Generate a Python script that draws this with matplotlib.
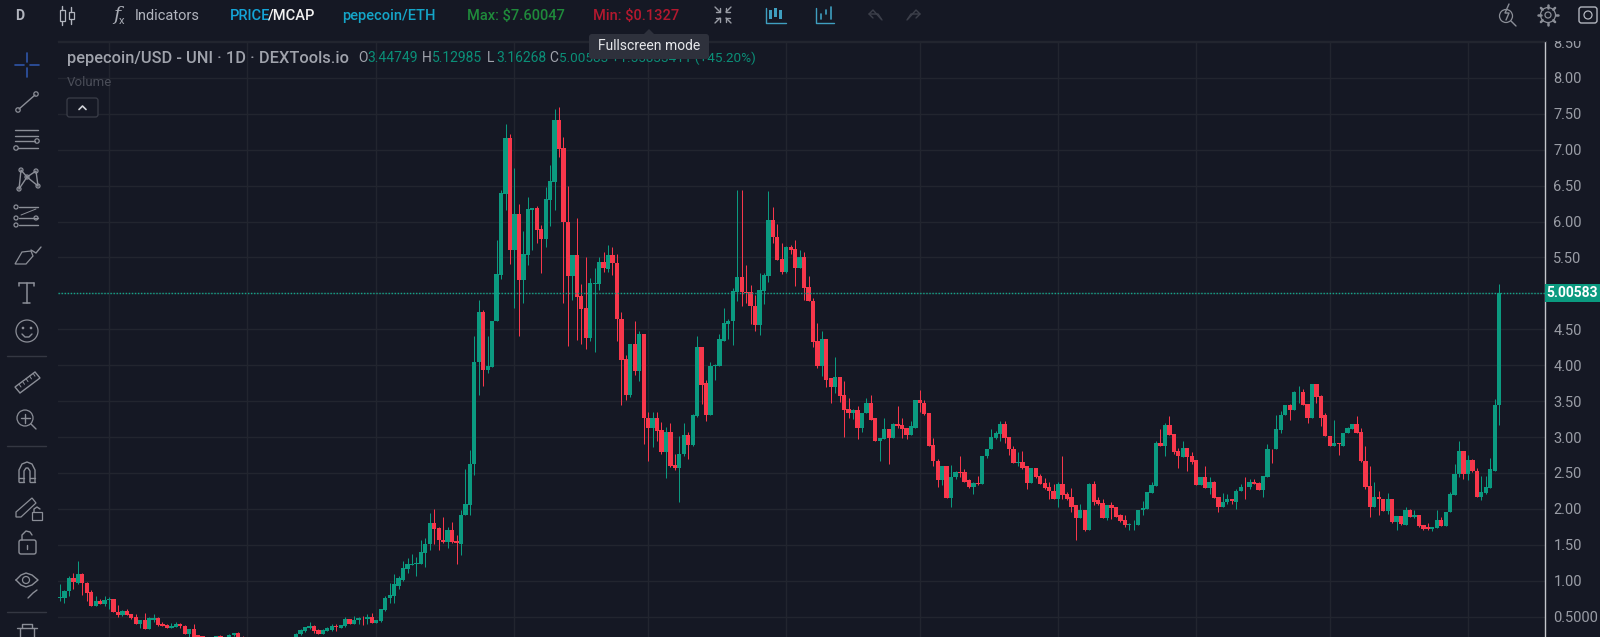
import math
import matplotlib
matplotlib.use('Agg')
import matplotlib.pyplot as plt
from matplotlib.patches import Circle, FancyBboxPatch, Polygon, Rectangle

# daily candles. the ones from 42 to 52 sit under the bottom edge
opens = [
    .76, .76, .85, 1.03, .97, 1.09, .97, .84, .65, .72,
    .67, .73, .74, .57, .52, .58, .54, .49, .40, .457,
    .327, .45, .485, .39, .387, .345, .355, .39, .373, .257,
    .33, .24, .23, .18, .16, .19, .225, .22, .2, .24,
    .27, .22, .19, .16, .14, .15, .14, .16, .15, .17,
    .16, .18, .17, .20, .25, .295, .345, .37, .318, .257,
    .30, .318, .365, .336, .364, .47, .396, .447, .485, .46,
    .494, .41, .434, .595, .755, .78, .93, 1.005, 1.16, 1.22,
    1.23, 1.237, 1.385, 1.506, 1.80, 1.73, 1.57, 1.54, 1.71, 1.55,
    1.515, 1.91, 2.06, 2.63, 4.04, 4.74, 3.94, 3.98, 4.61, 5.25,
    6.39, 7.16, 5.60, 6.11, 5.19, 5.54, 6.16, 6.19, 5.90, 5.76,
    6.30, 6.55, 7.42, 7.02, 6.00, 5.24, 5.54, 4.97, 4.79, 4.38,
    5.13, 5.13, 5.44, 5.34, 5.54, 5.43, 4.65, 4.08, 3.58, 4.29,
    3.92, 4.44, 3.27, 3.13, 3.26, 3.10, 2.79, 3.07, 2.61, 2.57,
    2.77, 3.03, 2.89, 3.29, 4.25, 3.75, 3.30, 3.99, 3.99, 4.34,
    4.58, 4.61, 5.02, 5.23, 5.02, 5.02, 4.83, 4.56, 5.04, 5.24,
    6.02, 5.79, 5.48, 5.30, 5.64, 5.62, 5.35, 5.50, 5.09, 4.90,
    4.34, 3.99, 4.37, 3.82, 3.70, 3.83, 3.58, 3.39, 3.34, 3.37,
    3.12, 3.34, 3.48, 3.26, 2.95, 2.97, 3.11, 2.98, 3.18, 3.17,
    3.12, 3.03, 3.13, 3.52, 3.48, 3.34, 2.89, 2.67, 2.40, 2.59,
    2.15, 2.44, 2.51, 2.51, 2.40, 2.30, 2.36, 2.35, 2.73, 2.83,
    2.98, 3.04, 3.18, 3.00, 2.84, 2.64, 2.65, 2.60, 2.36, 2.57,
    2.46, 2.36, 2.30, 2.25, 2.14, 2.35, 2.21, 2.16, 2.05, 1.87,
    1.99, 1.71, 2.35, 2.12, 2.08, 1.87, 2.06, 2.02, 1.91, 1.85,
    1.78, 1.79, 1.78, 1.98, 2.00, 2.22, 2.32, 2.92, 2.87, 3.17,
    3.04, 2.81, 2.72, 2.85, 2.73, 2.68, 2.33, 2.44, 2.29, 2.37,
    2.16, 2.02, 2.10, 2.13, 2.10, 2.25, 2.31, 2.30, 2.38, 2.36,
    2.26, 2.45, 2.84, 2.83, 3.10, 3.30, 3.44, 3.37, 3.62, 3.63,
    3.46, 3.26, 3.745, 3.57, 3.30, 3.02, 2.88, 2.92, 2.88, 3.05,
    3.11, 3.18, 3.07, 2.67, 2.32, 2.02, 2.16, 2.14, 1.97, 2.14,
    1.81, 1.90, 1.78, 1.98, 1.89, 1.92, 1.78, 1.745, 1.72, 1.73,
    1.85, 1.76, 1.95, 2.19, 2.48, 2.81, 2.48, 2.68, 2.53, 2.17,
    2.22, 2.29, 2.53, 3.44749,
]
closes = [
    .77, .86, 1.03, .98, 1.09, .97, .83, .65, .72, .67,
    .73, .74, .56, .52, .58, .52, .475, .40, .457, .327,
    .485, .485, .378, .373, .34, .37, .39, .37, .257, .33,
    .18, .20, .19, .16, .20, .225, .21, .20, .245, .27,
    .21, .19, .16, .14, .15, .14, .16, .15, .17, .16,
    .18, .17, .19, .262, .318, .355, .37, .30, .257, .318,
    .345, .364, .355, .378, .47, .396, .457, .485, .475, .494,
    .41, .447, .61, .763, .805, .95, 1.03, 1.176, 1.23, 1.237,
    1.25, 1.40, 1.515, 1.80, 1.72, 1.56, 1.54, 1.71, 1.54, 1.52,
    1.92, 2.07, 2.63, 4.05, 4.74, 3.94, 3.99, 4.62, 5.27, 6.40,
    7.16, 5.60, 6.11, 5.19, 5.55, 6.17, 6.19, 5.88, 5.76, 6.31,
    6.57, 7.42, 7.01, 5.99, 5.24, 5.54, 4.95, 4.78, 4.38, 5.14,
    5.15, 5.44, 5.35, 5.54, 5.42, 4.64, 4.07, 3.58, 4.29, 3.92,
    4.44, 3.26, 3.13, 3.26, 3.09, 2.79, 3.07, 2.60, 2.57, 2.77,
    3.03, 2.89, 3.30, 4.25, 3.73, 3.30, 3.99, 4.00, 4.36, 4.59,
    4.62, 5.03, 5.23, 5.02, 5.01, 4.82, 4.56, 5.05, 5.25, 6.02,
    5.78, 5.47, 5.30, 5.64, 5.61, 5.35, 5.50, 5.08, 4.89, 4.33,
    3.99, 4.37, 3.80, 3.70, 3.83, 3.57, 3.37, 3.34, 3.37, 3.12,
    3.34, 3.48, 3.24, 2.95, 2.98, 3.11, 2.98, 3.18, 3.16, 3.11,
    3.03, 3.15, 3.52, 3.47, 3.32, 2.88, 2.66, 2.40, 2.59, 2.15,
    2.45, 2.51, 2.50, 2.38, 2.30, 2.36, 2.34, 2.74, 2.84, 3.00,
    3.06, 3.18, 2.98, 2.83, 2.64, 2.65, 2.57, 2.36, 2.57, 2.45,
    2.35, 2.29, 2.25, 2.14, 2.35, 2.19, 2.14, 2.03, 1.87, 1.99,
    1.71, 2.35, 2.10, 2.07, 1.87, 2.06, 2.01, 1.89, 1.83, 1.78,
    1.79, 1.795, 1.99, 2.01, 2.23, 2.33, 2.92, 2.87, 3.17, 3.03,
    2.79, 2.73, 2.85, 2.72, 2.65, 2.33, 2.44, 2.29, 2.37, 2.15,
    2.02, 2.10, 2.13, 2.11, 2.25, 2.31, 2.30, 2.38, 2.35, 2.26,
    2.46, 2.84, 2.83, 3.11, 3.31, 3.44, 3.38, 3.62, 3.625, 3.44,
    3.26, 3.745, 3.56, 3.27, 3.01, 2.88, 2.91, 2.90, 3.06, 3.12,
    3.18, 3.05, 2.66, 2.31, 2.02, 2.16, 2.13, 1.97, 2.14, 1.81,
    1.90, 1.79, 1.98, 1.89, 1.92, 1.755, 1.72, 1.72, 1.745, 1.85,
    1.76, 1.96, 2.20, 2.49, 2.81, 2.48, 2.68, 2.52, 2.17, 2.23,
    2.31, 2.55, 3.45, 5.00583,
]
highs = [
    .95, .865, 1.07, 1.11, 1.27, 1.11, .98, .87, .78, .74,
    .78, .77, .74, .66, .59, .61, .54, .54, .457, .554,
    .49, .54, .49, .42, .39, .41, .43, .41, .38, .33,
    .40, .24, .23, .19, .20, .23, .24, .22, .25, .275,
    .29, .23, .20, .17, .16, .16, .165, .165, .175, .175,
    .185, .185, .195, .27, .32, .36, .43, .378, .32, .32,
    .35, .39, .39, .38, .494, .47, .503, .494, .51, .53,
    .554, .447, .61, .78, .97, 1.09, 1.06, 1.27, 1.31, 1.37,
    1.33, 1.56, 1.60, 1.94, 2.0, 1.75, 1.88, 1.75, 1.81, 1.63,
    1.98, 2.55, 2.82, 4.40, 4.91, 4.77, 4.40, 4.62, 5.74, 6.44,
    7.36, 7.22, 6.74, 6.25, 5.87, 6.34, 6.19, 6.22, 5.95, 6.48,
    6.79, 7.57, 7.60047, 7.18, 6.50, 5.54, 6.05, 5.13, 5.50, 5.22,
    5.36, 5.51, 5.58, 5.67, 5.65, 5.55, 4.74, 4.14, 4.29, 4.61,
    4.47, 4.44, 3.35, 3.35, 3.35, 3.21, 3.14, 3.19, 2.77, 3.01,
    3.19, 3.07, 3.32, 4.40, 4.25, 3.79, 4.05, 4.02, 4.44, 4.79,
    4.65, 5.08, 6.44, 6.44, 5.39, 5.12, 4.98, 5.28, 5.28, 6.42,
    6.20, 5.96, 5.70, 5.66, 5.67, 5.74, 5.60, 5.57, 5.24, 4.93,
    4.59, 4.48, 4.37, 3.82, 4.11, 3.84, 3.78, 3.55, 3.39, 3.43,
    3.34, 3.54, 3.59, 3.26, 2.98, 3.27, 3.11, 3.20, 3.43, 3.27,
    3.12, 3.23, 3.52, 3.65, 3.51, 3.34, 2.98, 2.69, 2.59, 2.59,
    2.61, 2.53, 2.73, 2.56, 2.41, 2.38, 2.46, 2.74, 2.84, 3.11,
    3.08, 3.22, 3.23, 3.0, 2.88, 2.79, 2.81, 2.60, 2.57, 2.57,
    2.48, 2.43, 2.37, 2.35, 2.37, 2.73, 2.23, 2.29, 2.05, 2.07,
    1.99, 2.36, 2.39, 2.17, 2.14, 2.06, 2.09, 2.03, 1.93, 1.92,
    1.80, 1.85, 1.99, 2.11, 2.23, 2.38, 2.95, 3.11, 3.20, 3.29,
    3.04, 2.85, 2.94, 2.85, 2.79, 2.68, 2.44, 2.60, 2.45, 2.39,
    2.16, 2.22, 2.21, 2.14, 2.28, 2.34, 2.45, 2.41, 2.42, 2.38,
    2.46, 2.90, 2.84, 3.31, 3.36, 3.44, 3.46, 3.64, 3.71, 3.67,
    3.46, 3.745, 3.745, 3.59, 3.33, 3.02, 3.24, 2.92, 3.06, 3.14,
    3.18, 3.29, 3.13, 2.88, 2.59, 2.38, 2.25, 2.14, 2.22, 2.14,
    1.90, 1.90, 2.02, 2.0, 1.99, 1.92, 1.78, 1.80, 1.745, 1.99,
    1.88, 1.96, 2.23, 2.63, 2.95, 2.81, 2.75, 2.69, 2.57, 2.46,
    2.46, 2.71, 3.53, 5.12985,
]
lows = [
    .71, .69, .79, .88, .96, .80, .72, .65, .65, .67,
    .65, .60, .56, .50, .51, .52, .47, .40, .345, .32,
    .325, .43, .375, .37, .34, .335, .355, .345, .25, .21,
    .15, .19, .18, .15, .155, .18, .19, .19, .19, .23,
    .20, .18, .15, .135, .1327, .135, .135, .14, .14, .15,
    .15, .16, .165, .19, .24, .29, .33, .266, .25, .25,
    .30, .30, .295, .335, .355, .396, .39, .39, .38, .40,
    .41, .41, .43, .572, .69, .69, .89, 1.00, 1.10, 1.22,
    1.06, 1.237, 1.19, 1.43, 1.506, 1.43, 1.525, 1.46, 1.525, 1.23,
    1.35, 1.91, 1.91, 2.47, 3.58, 3.71, 3.89, 3.98, 4.61, 5.20,
    6.16, 5.41, 4.80, 4.40, 4.86, 5.39, 5.61, 5.70, 5.29, 5.65,
    5.94, 6.16, 6.90, 4.87, 4.27, 4.91, 4.35, 4.29, 4.23, 4.34,
    4.18, 5.05, 5.30, 5.30, 5.26, 4.34, 3.45, 3.51, 3.56, 3.86,
    3.78, 2.90, 2.66, 2.86, 2.95, 2.77, 2.43, 2.58, 2.54, 2.10,
    2.73, 2.70, 2.88, 3.28, 3.46, 3.23, 3.30, 3.79, 3.99, 4.34,
    4.36, 4.28, 4.89, 4.83, 4.86, 4.57, 4.47, 4.42, 4.85, 5.16,
    5.70, 5.47, 5.27, 5.28, 5.55, 5.10, 5.35, 4.91, 4.89, 4.25,
    3.96, 3.85, 3.69, 3.48, 3.61, 3.49, 3.0, 3.27, 3.25, 2.97,
    3.07, 3.33, 3.24, 2.94, 2.67, 2.97, 2.62, 2.98, 3.12, 2.99,
    2.97, 3.03, 3.13, 3.35, 3.31, 2.88, 2.60, 2.30, 2.33, 2.15,
    2.02, 2.42, 2.45, 2.38, 2.29, 2.21, 2.33, 2.34, 2.71, 2.83,
    2.97, 2.95, 2.91, 2.75, 2.64, 2.59, 2.55, 2.27, 2.36, 2.43,
    2.34, 2.28, 2.14, 2.14, 2.02, 2.14, 2.12, 1.95, 1.56, 1.87,
    1.69, 1.71, 2.05, 2.06, 1.87, 1.84, 1.86, 1.88, 1.82, 1.75,
    1.70, 1.71, 1.78, 1.91, 2.0, 2.22, 2.32, 2.87, 2.74, 3.03,
    2.76, 2.57, 2.72, 2.52, 2.63, 2.33, 2.33, 2.29, 2.20, 2.15,
    1.95, 2.02, 2.07, 2.07, 2.0, 2.25, 2.14, 2.28, 2.34, 2.26,
    2.17, 2.45, 2.64, 2.83, 3.06, 3.30, 3.24, 3.37, 3.48, 3.44,
    3.19, 3.26, 3.48, 3.16, 3.01, 2.88, 2.88, 2.75, 2.88, 3.05,
    3.11, 3.05, 2.65, 2.28, 1.88, 2.02, 1.92, 1.97, 1.93, 1.80,
    1.70, 1.78, 1.78, 1.89, 1.87, 1.75, 1.70, 1.70, 1.69, 1.73,
    1.76, 1.76, 1.95, 2.19, 2.44, 2.42, 2.40, 2.51, 2.17, 2.12,
    2.21, 2.29, 2.53, 3.16268,
]

price_ticks = [0.5, 1, 1.5, 2, 2.5, 3, 3.5, 4, 4.5, 5, 5.5, 6, 6.5, 7, 7.5, 8, 8.5]
# 5.00 is hidden behind the last price tag on the real chart
price_labels = ['0.5000', '1.00', '1.50', '2.00', '2.50', '3.00', '3.50', '4.00', '4.50',
                '', '5.50', '6.00', '6.50', '7.00', '7.50', '8.00', '8.50']
month_starts = [11, 42, 71, 102, 132, 163, 193, 224, 255, 285, 316]
last_price = closes[-1]

BG = '#151824'
GRID = '#22252f'
GREEN = '#0b9a80'
RED = '#f7374b'
ICON = '#8b8e97'

plt.rcParams['font.family'] = ['Roboto', 'DejaVu Sans']
fig = plt.figure(figsize=(16, 6.37), dpi=100, facecolor=BG)

# chart pane, 58..1545 px across and 41..637 px down
ax = fig.add_axes([58 / 1600, 0, (1545 - 58) / 1600, (637 - 41) / 637], facecolor=BG)
ax.set_xlim(-0.449, 333.3)
ax.set_ylim(0.215, 8.515)

days = list(range(len(closes)))
colors = [GREEN if c >= o else RED for o, c in zip(opens, closes)]
ax.vlines(days, lows, highs, colors=colors, linewidth=0.72, zorder=3)
ax.bar(days, [abs(c - o) for o, c in zip(opens, closes)], bottom=[min(o, c) for o, c in zip(opens, closes)],
       width=0.96, color=colors, linewidth=0, zorder=4)
ax.axhline(last_price, color='#12a58a', linewidth=1, linestyle=(0, (1, 1.2)), zorder=5)

ax.set_xticks(month_starts)
ax.set_yticks(price_ticks)
ax.grid(True, color=GRID, linewidth=1)
ax.set_axisbelow(True)
ax.yaxis.tick_right()
ax.tick_params(length=0, labelbottom=False, labelleft=False, labelright=True, pad=6,
               labelcolor='#9a9da6', labelsize=10.5)
ax.set_yticklabels(price_labels)
for name, spine in ax.spines.items():
    spine.set_visible(name == 'right')
ax.spines['right'].set_color('#c4c6cc')
ax.spines['right'].set_linewidth(1)

# everything around the chart, drawn in screen pixels
ui = fig.add_axes([0, 0, 1, 1], facecolor='none')
ui.set_xlim(0, 1600)
ui.set_ylim(637, 0)
ui.axis('off')
# top bar sits over the 8.50 label, cutting it in half like on the site
ui.add_patch(Rectangle((0, 0), 1600, 41, color=BG, linewidth=0))
ui.plot([58, 1545], [41, 41], color=GRID, linewidth=1)
ui.add_patch(Rectangle((1545, 284), 55, 18, color=GREEN, linewidth=0))
ui.text(1572.5, 293, '5.00583', color='white', fontsize=10, fontweight='bold', ha='center', va='center')


def line(xs, ys, color=ICON, lw=1.0):
    ui.plot(xs, ys, color=color, linewidth=lw, solid_capstyle='round')


def dot(x, y, r=2.2, color=ICON):
    ui.add_patch(Circle((x, y), r, fill=False, edgecolor=color, linewidth=0.9))


def top_text(x, s, color, **kw):
    return ui.text(x, 16, s, color=color, fontsize=kw.pop('size', 10), va='center', **kw)


# top bar
top_text(15, 'D', '#b2b5be', fontweight='bold')
for x, y0, y1, b0, b1 in [(62, 6, 25, 10, 21), (71, 7, 24, 12, 19)]:
    line([x, x], [y0, b0], '#b2b5be')
    line([x, x], [b1, y1], '#b2b5be')
    ui.add_patch(Rectangle((x - 2.5, b0), 5, b1 - b0, fill=False, edgecolor='#b2b5be', linewidth=0.9))
ui.text(113, 15, 'f', color='#a8abb4', fontsize=14, style='italic', va='center', family='DejaVu Serif')
ui.text(119, 21, 'x', color='#a8abb4', fontsize=8, va='center')
top_text(135, 'Indicators', '#b2b5be', size=10.5)
top_text(230, 'PRICE', '#14a5d8', size=10.5, fontweight='medium')
top_text(268, '/MCAP', '#f2f2f2', size=10.5, fontweight='medium')
top_text(342, 'pepecoin/ETH', '#14a5c8', size=10.5, fontweight='medium')
top_text(467, 'Max: $7.60047', '#1f8a3b', size=10.5, fontweight='medium')
top_text(593, 'Min: $0.1327', '#b3182f', size=10.5, fontweight='medium')
for sx, sy in [(-1, -1), (1, -1), (-1, 1), (1, 1)]:
    cx, cy = 723 + sx * 3, 15 + sy * 3
    line([cx, cx + sx * 5], [cy, cy + sy * 5], '#9a9da6')
    line([cx, cx + sx * 4], [cy, cy], '#9a9da6')
    line([cx, cx], [cy, cy + sy * 4], '#9a9da6')

# chart type buttons
BLUE = '#3f9fc0'
line([766, 766, 786], [8, 23, 23], BLUE)
for x, a, b in [(770, 10, 19), (775, 8, 17), (780, 10, 19)]:
    ui.add_patch(Rectangle((x - 1.5, a), 3, b - a, color=BLUE, linewidth=0))
line([816, 816, 834], [8, 23, 23], BLUE)
for x, a, b in [(821, 14, 19), (826, 10, 14), (831, 7, 19)]:
    line([x, x], [a, b], BLUE, 1.2)
for x, d in [(875, 1), (914, -1)]:
    line([x + d * 6, x - d * 2, x - d * 6, x - d * 2], [19, 10, 14, 18], '#3c3f4a')
    line([x - d * 6, x + d * 3, x + d * 7], [14, 14, 20], '#3c3f4a')

# right side icons
dot(1506, 16, 6.5)
line([1511, 1516], [21, 26])
line([1509, 1505, 1509, 1506], [4, 13, 13, 20], ICON)
dot(1548, 15, 3)
dot(1548, 15, 7.5)
for k in range(8):
    a = k * math.pi / 4
    line([1548 + 7.5 * math.cos(a), 1548 + 10 * math.cos(a)], [15 + 7.5 * math.sin(a), 15 + 10 * math.sin(a)], ICON, 1.8)
ui.add_patch(FancyBboxPatch((1579, 7), 18, 16, boxstyle='round,pad=0,rounding_size=2.5',
                            fill=False, edgecolor='#b2b5be', linewidth=1))
dot(1588, 15, 4, '#b2b5be')

# legend line and tooltip
ui.text(67, 58, 'pepecoin/USD - UNI · 1D · DEXTools.io', color='#a0a3ac', fontsize=11.8,
        fontweight='medium', va='center')
for x, label, value in [(358, 'O', '3.44749'), (422, 'H', '5.12985'), (487, 'L', '3.16268')]:
    ui.text(x, 58, label, color='#a0a3ac', fontsize=10, va='center')
    ui.text(x + 9.5, 58, value, color='#0b8f78', fontsize=10, va='center')
ui.text(549, 58, 'C', color='#a0a3ac', fontsize=10, va='center')
ui.text(559, 58, '5.00583 +1.55833411 (+45.20%)', color='#0b8f78', fontsize=9.7, va='center')
ui.text(67, 83, 'Volume', color='#4a4d58', fontsize=9.5, va='center')
ui.add_patch(FancyBboxPatch((67, 98), 31, 19, boxstyle='round,pad=0,rounding_size=2.5',
                            facecolor=BG, edgecolor='#3a3d48', linewidth=0.9))
line([79, 82.5, 86], [109.5, 106, 109.5], '#d0d2d8', 1.2)

ui.add_patch(FancyBboxPatch((589, 34), 120, 25, boxstyle='round,pad=0,rounding_size=3',
                            facecolor='#2e313c', edgecolor='none', zorder=6))
ui.add_patch(Polygon([[644, 34], [649, 29], [654, 34]], color='#2e313c', linewidth=0, zorder=6))
ui.text(649, 46.5, 'Fullscreen mode', color='#e6e7ea', fontsize=10, ha='center', va='center', zorder=7)

# left drawing toolbar
cx = 27
line([15, 24], [65, 65], '#2f55a8', 1.2)
line([30, 39], [65, 65], '#2f55a8', 1.2)
line([cx, cx], [53, 62], '#2f55a8', 1.2)
line([cx, cx], [68, 77], '#2f55a8', 1.2)

line([19, 35], [109, 95])
dot(18, 110)
dot(36, 94)

for y, x0, x1 in [(130, 15, 38), (136, 15, 38), (141, 15, 35), (148, 18, 38)]:
    line([x0, x1], [y, y])
dot(37, 141)
dot(16, 148)

pts = [(19, 189), (21, 170), (27, 177), (36, 171), (38, 186)]
line([p[0] for p in pts], [p[1] for p in pts])
line([19, 27, 38], [189, 177, 186])
for p in pts:
    dot(p[0], p[1], 2)

for y, x0, x1, cdot in [(207, 19, 38, 16), (218, 19, 38, 16), (225, 19, 38, 16)]:
    line([x0, x1], [y, y])
    dot(cdot, y, 2)
dot(36, 218, 2)
line([21, 36], [215, 209], ICON, 0.7)

ui.add_patch(Polygon([[15, 264], [22, 252], [31, 251], [33, 256], [26, 264]], fill=False, edgecolor=ICON, linewidth=0.9))
line([31, 36, 41], [250, 253, 247])

line([19, 34], [283, 283], ICON, 1.1)
line([19, 19], [283, 286], ICON, 1.1)
line([34, 34], [283, 286], ICON, 1.1)
line([26.5, 26.5], [283, 303], ICON, 1.1)
line([23, 30], [303, 303], ICON, 1.1)

dot(27, 331, 11)
dot(23, 328, 0.7)
dot(31, 328, 0.7)
line([22, 25, 29, 32], [334, 337, 337, 334])
line([7, 46], [356, 356], '#343742')

ui.add_patch(Polygon([[15, 387], [35, 372], [40, 378], [20, 393]], fill=False, edgecolor=ICON, linewidth=1))
for k in range(5):
    line([19 + 3.5 * k, 21 + 3.5 * k], [384 - 2.7 * k, 387 - 2.7 * k], ICON, 0.7)

dot(25, 418, 8)
line([20.5, 29.5], [418, 418])
line([25, 25], [413.5, 422.5])
line([31, 36], [424, 429])
line([7, 46], [446, 446], '#343742')

# magnet
line([19, 19, 22, 27, 32, 35, 35], [482, 470, 464, 462, 464, 470, 482])
line([24, 24, 26, 28, 30, 30], [482, 471, 468, 468, 471, 482])
line([19, 24], [482, 482])
line([30, 35], [482, 482])
line([19, 24], [478, 478])
line([30, 35], [478, 478])

# pencil and lock
ui.add_patch(Polygon([[16, 512], [32, 498], [36, 503], [21, 517], [16, 517]], fill=False, edgecolor=ICON, linewidth=0.9))
ui.add_patch(Rectangle((32, 512), 10, 8, fill=False, edgecolor=ICON, linewidth=0.9))
line([34, 34, 37, 40], [512, 509, 507, 509])

ui.add_patch(FancyBboxPatch((19, 540), 17, 14, boxstyle='round,pad=0,rounding_size=2', fill=False, edgecolor=ICON, linewidth=1))
line([22, 22, 26, 30, 32], [540, 535, 531, 532, 535])
line([27, 27], [545, 549])

# eye
line([16, 21, 26, 32, 38, 32, 26, 21, 16], [580, 575, 573, 575, 580, 585, 587, 585, 580])
dot(26, 580, 3.5)
line([28, 33, 37], [598, 593, 590])
line([7, 46], [612, 612], '#343742')

# bin, runs off the bottom edge
line([17, 37], [628, 628])
line([22, 22, 32, 32], [628, 624, 624, 628])
line([20, 20], [628, 637])
line([34, 34], [628, 637])

fig.savefig('out.png', dpi=100, facecolor=BG)
